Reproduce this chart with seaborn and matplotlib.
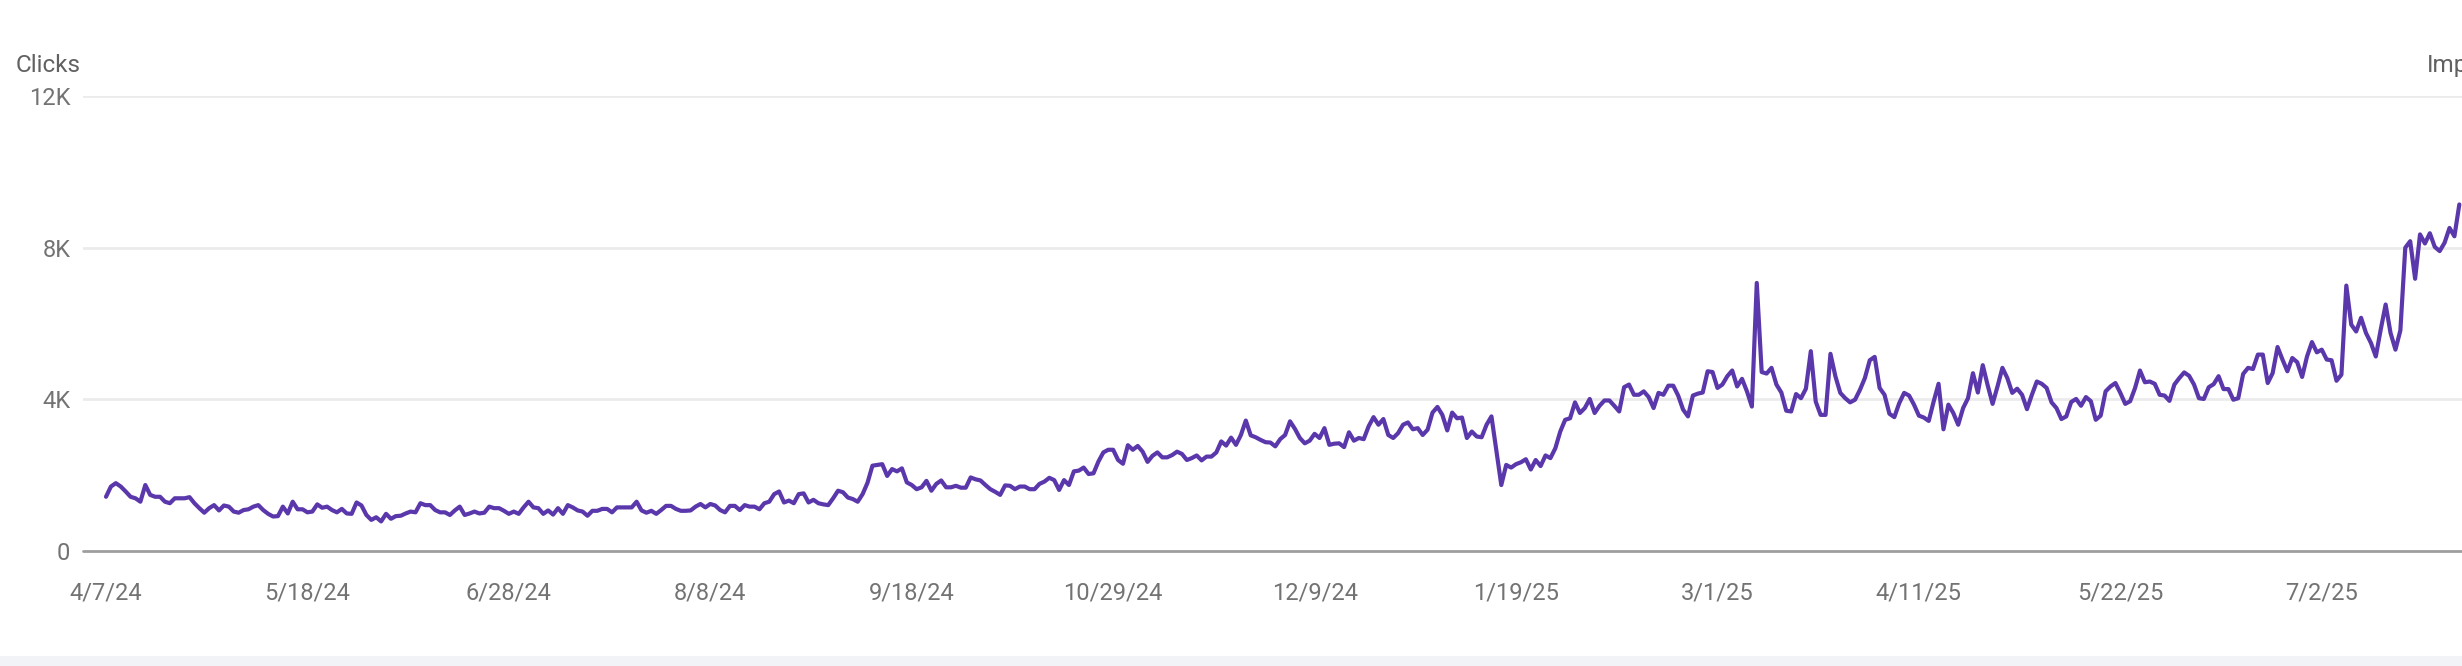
import numpy as np
import pandas as pd
import matplotlib
matplotlib.use("Agg")
import matplotlib.pyplot as plt
import matplotlib.dates as mdates
from matplotlib.patches import Rectangle
import seaborn as sns

# ---- data (daily clicks, in thousands) ----
start_date = "2024-04-07"

clicks_apr_jun_2024 = [
    1.43, 1.70, 1.79, 1.70, 1.57, 1.43, 1.39, 1.30, 1.74, 1.48,
    1.43, 1.43, 1.30, 1.26, 1.39, 1.39, 1.39, 1.42, 1.26, 1.13,
    1.01, 1.13, 1.21, 1.07, 1.20, 1.17, 1.04, 1.01, 1.08, 1.10,
    1.17, 1.21, 1.08, 0.98, 0.91, 0.92, 1.17, 0.99, 1.30, 1.10,
    1.10, 1.02, 1.04, 1.23, 1.14, 1.17, 1.08, 1.02, 1.11, 0.99,
    0.98, 1.28, 1.20, 0.95, 0.82, 0.89, 0.78, 0.98, 0.85, 0.92,
    0.93, 0.99, 1.04, 1.02, 1.26, 1.21, 1.21, 1.08, 1.02, 1.02,
    0.95, 1.07, 1.17, 0.95, 0.99, 1.04, 0.99, 1.01, 1.17, 1.13,
]
clicks_jun_sep_2024 = [
    1.13, 1.06, 0.98, 1.04, 0.98, 1.15, 1.30, 1.15, 1.13, 0.98,
    1.07, 0.96, 1.13, 0.98, 1.21, 1.15, 1.07, 1.04, 0.93, 1.06,
    1.06, 1.11, 1.11, 1.02, 1.15, 1.15, 1.15, 1.15, 1.30, 1.07,
    1.01, 1.06, 0.98, 1.08, 1.19, 1.19, 1.11, 1.06, 1.06, 1.07,
    1.17, 1.24, 1.15, 1.24, 1.20, 1.08, 1.02, 1.19, 1.19, 1.08,
    1.21, 1.17, 1.17, 1.10, 1.26, 1.30, 1.50, 1.57, 1.28, 1.33,
    1.26, 1.50, 1.52, 1.28, 1.35, 1.26, 1.23, 1.21, 1.39, 1.59,
    1.55, 1.41, 1.37, 1.30, 1.50, 1.80, 2.25, 2.27, 2.29, 1.98,
]
clicks_sep_dec_2024 = [
    2.16, 2.10, 2.18, 1.81, 1.74, 1.63, 1.68, 1.85, 1.59, 1.77,
    1.86, 1.68, 1.68, 1.72, 1.67, 1.67, 1.94, 1.89, 1.86, 1.74,
    1.63, 1.56, 1.48, 1.73, 1.72, 1.63, 1.70, 1.70, 1.63, 1.63,
    1.77, 1.83, 1.93, 1.87, 1.61, 1.87, 1.74, 2.10, 2.12, 2.20,
    2.03, 2.05, 2.36, 2.60, 2.67, 2.67, 2.40, 2.30, 2.79, 2.67,
    2.77, 2.62, 2.35, 2.51, 2.60, 2.47, 2.47, 2.53, 2.62, 2.56,
    2.40, 2.45, 2.52, 2.39, 2.49, 2.49, 2.60, 2.89, 2.78, 2.99,
    2.80, 3.06, 3.44, 3.05, 3.00, 2.93, 2.87, 2.86, 2.76, 2.95,
]
clicks_dec_2024_feb_2025 = [
    3.06, 3.42, 3.22, 2.98, 2.84, 2.91, 3.09, 2.98, 3.24, 2.80,
    2.83, 2.84, 2.74, 3.13, 2.91, 2.98, 2.95, 3.29, 3.53, 3.33,
    3.48, 3.06, 2.98, 3.11, 3.33, 3.39, 3.21, 3.24, 3.06, 3.20,
    3.65, 3.80, 3.59, 3.18, 3.65, 3.50, 3.52, 2.98, 3.15, 3.02,
    3.00, 3.33, 3.55, 2.64, 1.74, 2.27, 2.20, 2.29, 2.34, 2.42,
    2.15, 2.40, 2.24, 2.52, 2.45, 2.71, 3.15, 3.46, 3.50, 3.92,
    3.64, 3.77, 4.01, 3.64, 3.83, 3.97, 3.97, 3.83, 3.68, 4.32,
    4.39, 4.12, 4.12, 4.21, 4.06, 3.77, 4.17, 4.12, 4.36, 4.36,
]
clicks_feb_may_2025 = [
    4.10, 3.73, 3.55, 4.10, 4.15, 4.18, 4.74, 4.72, 4.30, 4.39,
    4.61, 4.76, 4.34, 4.54, 4.21, 3.81, 7.07, 4.72, 4.68, 4.83,
    4.39, 4.18, 3.70, 3.68, 4.14, 4.03, 4.28, 5.27, 3.94, 3.59,
    3.59, 5.20, 4.61, 4.17, 4.03, 3.92, 3.99, 4.25, 4.56, 5.03,
    5.12, 4.30, 4.12, 3.62, 3.53, 3.90, 4.17, 4.10, 3.86, 3.57,
    3.52, 3.43, 3.94, 4.41, 3.21, 3.86, 3.64, 3.33, 3.77, 4.03,
    4.69, 4.18, 4.90, 4.37, 3.88, 4.34, 4.83, 4.56, 4.17, 4.28,
    4.12, 3.74, 4.12, 4.47, 4.41, 4.30, 3.92, 3.77, 3.48, 3.55,
]
clicks_may_jul_2025 = [
    3.93, 4.01, 3.83, 4.06, 3.95, 3.46, 3.57, 4.21, 4.34, 4.43,
    4.17, 3.88, 3.95, 4.30, 4.76, 4.45, 4.47, 4.41, 4.12, 4.10,
    3.96, 4.39, 4.56, 4.71, 4.62, 4.39, 4.03, 4.01, 4.32, 4.40,
    4.61, 4.27, 4.27, 3.99, 4.03, 4.67, 4.83, 4.80, 5.18, 5.18,
    4.43, 4.69, 5.38, 5.05, 4.74, 5.09, 4.98, 4.59, 5.13, 5.51,
    5.24, 5.31, 5.05, 5.03, 4.49, 4.65, 7.00, 5.97, 5.79, 6.15,
    5.75, 5.49, 5.13, 5.84, 6.50, 5.75, 5.31, 5.82, 8.00, 8.17,
    7.18, 8.35, 8.11, 8.38, 8.02, 7.91, 8.13, 8.52, 8.30, 9.14,
]

y_ticks = [0, 4000, 8000, 12000]
y_tick_labels = ["0", "4K", "8K", "12K"]
x_tick_labels = ["4/7/24", "5/18/24", "6/28/24", "8/8/24", "9/18/24", "10/29/24",
                 "12/9/24", "1/19/25", "3/1/25", "4/11/25", "5/22/25", "7/2/25"]

clicks_k = (clicks_apr_jun_2024 + clicks_jun_sep_2024 + clicks_sep_dec_2024 +
            clicks_dec_2024_feb_2025 + clicks_feb_may_2025 + clicks_may_jul_2025)
dates = pd.date_range(start_date, periods=len(clicks_k), freq="D")
df = pd.DataFrame({"date": dates, "clicks": np.array(clicks_k) * 1000})

# ---- style ----
sns.set_theme(style="white")
plt.rcParams["font.family"] = ["Roboto", "DejaVu Sans"]

W, H = 2462, 666
fig = plt.figure(figsize=(W / 100, H / 100), dpi=100)
fig.patch.set_facecolor("white")

left_px, right_px, top_px, zero_px = 83, 2462, 96, 551
ax = fig.add_axes([left_px / W, 1 - zero_px / H, (right_px - left_px) / W,
                   (zero_px - top_px) / H])
ax.set_facecolor("none")

sns.lineplot(data=df, x="date", y="clicks", ax=ax, color="#5a37ab",
             linewidth=3.0, zorder=3)

px_per_day = 4.913
d0 = mdates.date2num(pd.Timestamp(start_date))
ax.set_xlim(d0 - (106 - left_px) / px_per_day, d0 + (right_px - 106) / px_per_day)
ax.set_ylim(0, 12000)

tick_dates = [pd.Timestamp(start_date) + pd.Timedelta(days=41 * i)
              for i in range(len(x_tick_labels))]
ax.set_xticks([mdates.date2num(t) for t in tick_dates])
ax.set_xticklabels(x_tick_labels)
ax.set_yticks(y_ticks)
ax.set_yticklabels(y_tick_labels)

for y in y_ticks[1:]:
    ax.axhline(y, color="#ebebeb", linewidth=2.0, zorder=1)
ax.axhline(0, color="#9e9e9e", linewidth=2.0, zorder=2, clip_on=False)

for s in ax.spines.values():
    s.set_visible(False)
ax.grid(False)
ax.tick_params(axis="both", length=0, labelsize=17, labelcolor="#737373")
ax.tick_params(axis="y", pad=9)
ax.tick_params(axis="x", pad=22)
ax.set_xlabel("")
ax.set_ylabel("")

fig.text(16 / W, 1 - 72 / H, "Clicks", ha="left", va="baseline",
         fontsize=17.5, color="#616161")
fig.text(2427 / W, 1 - 72 / H, "Impressions", ha="left", va="baseline",
         fontsize=17.5, color="#616161")

# light footer band
fig.patches.append(Rectangle((0, 0), 1, 10 / H, transform=fig.transFigure,
                             facecolor="#f1f3f6", edgecolor="none", zorder=0))

fig.savefig("out.png", dpi=100, facecolor="white")
